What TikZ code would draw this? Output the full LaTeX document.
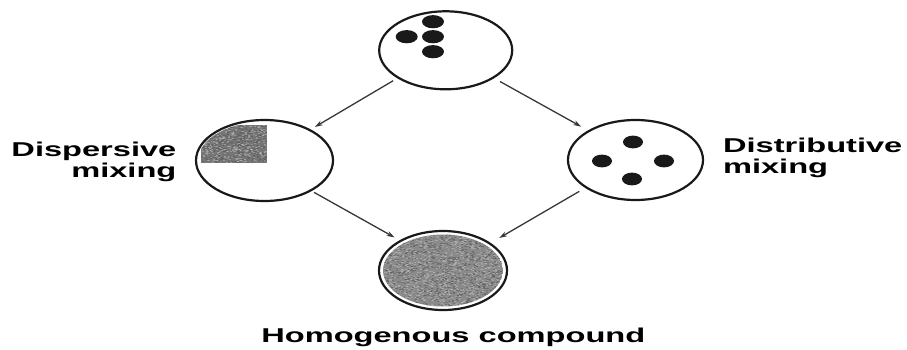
\documentclass[tikz,border=0pt]{standalone}
\usepackage{fontspec}
\setmainfont{Liberation Sans}
\usetikzlibrary{shapes.geometric,arrows.meta,calc}
\definecolor{ink}{RGB}{25,25,25}
\definecolor{arrowgray}{RGB}{55,55,55}
\definecolor{texbase}{RGB}{138,138,138}
\definecolor{texdark}{RGB}{90,90,90}
\definecolor{texlight}{RGB}{185,185,185}
\definecolor{sqbase}{RGB}{118,118,118}
\tikzset{
  blob/.style={ellipse, draw=ink, line width=2.2pt, inner sep=0pt, outer sep=0pt},
  flow/.style={draw=arrowgray, line width=1.3pt, -{Stealth[length=8pt,width=5pt]}},
  lbl/.style={font=\bfseries\fontsize{20}{21}\selectfont, xscale=1.63, inner sep=0pt},
  dot/.style={fill=ink},
}
\begin{document}
\begin{tikzpicture}[x=1pt,y=1pt]
\useasboundingbox (0,0) rectangle (907,349);
\pgfmathsetseed{11}
% textures first
\begin{scope}
  \clip (443,78.5) ellipse [x radius=60, y radius=36];
  \fill[texbase] (443,78.5) ellipse [x radius=60, y radius=36];
  \foreach \i in {1,...,2200}{
    \pgfmathsetmacro{\px}{383+120*rnd}
    \pgfmathsetmacro{\py}{42+73*rnd}
    \pgfmathtruncatemacro{\c}{2*rnd}
    \ifnum\c=0
      \fill[texlight,opacity=0.55] (\px,\py) rectangle ++(2.0,0.9);
    \else
      \fill[texdark,opacity=0.55] (\px,\py) rectangle ++(2.0,0.9);
    \fi
  }
\end{scope}
\begin{scope}
  \clip (264.5,188.5) ellipse [x radius=66.5, y radius=38.5];
  \fill[sqbase] (201,186) rectangle (267,224);
  \foreach \i in {1,...,800}{
    \pgfmathsetmacro{\px}{201+64*rnd}
    \pgfmathsetmacro{\py}{186+37*rnd}
    \pgfmathtruncatemacro{\c}{2*rnd}
    \ifnum\c=0
      \fill[texlight,opacity=0.5] (\px,\py) rectangle ++(2.0,0.9);
    \else
      \fill[texdark,opacity=0.6] (\px,\py) rectangle ++(2.0,0.9);
    \fi
  }
\end{scope}
% circles
\node[blob, minimum width=133pt, minimum height=78pt] (top) at (445.7,298.7) {};
\node[blob, minimum width=137pt, minimum height=81pt] (left) at (264.5,188.5) {};
\node[blob, minimum width=135pt, minimum height=80pt] (right) at (635.5,189) {};
\node[blob, minimum width=128pt, minimum height=79pt] (bot) at (443,78.5) {};
% particles
\fill[dot] (433,327.3) ellipse [x radius=11, y radius=6.6];
\fill[dot] (406.7,312.3) ellipse [x radius=11, y radius=6.6];
\fill[dot] (433,312.3) ellipse [x radius=11, y radius=6.6];
\fill[dot] (433,297.3) ellipse [x radius=11, y radius=6.6];
\fill[dot] (633,207) ellipse [x radius=10, y radius=6.4];
\fill[dot] (602,188) ellipse [x radius=10, y radius=6.4];
\fill[dot] (664,188) ellipse [x radius=10, y radius=6.4];
\fill[dot] (632,170) ellipse [x radius=10, y radius=6.4];
% arrows
\draw[flow, shorten <=6pt, shorten >=6pt] (top.210.6) -- (left.34.6);
\draw[flow, shorten <=8pt, shorten >=9pt] (top.330.3) -- (right.148.6);
\draw[flow, shorten <=4pt, shorten >=7pt] (left.327) -- (bot.145.8);
\draw[flow, shorten <=8pt, shorten >=11pt] (right.209.5) -- (bot.30.7);
% labels
\node[lbl, anchor=base east, align=right] (dlab) at (176.7,172) {Dispersive\\mixing};
\node[lbl, anchor=base west, align=left] (rlab) at (722.7,176) {Distributive\\mixing};
\node[lbl, anchor=base] (blab) at (453.3,6.3) {Homogenous compound};
\end{tikzpicture}
\end{document}
